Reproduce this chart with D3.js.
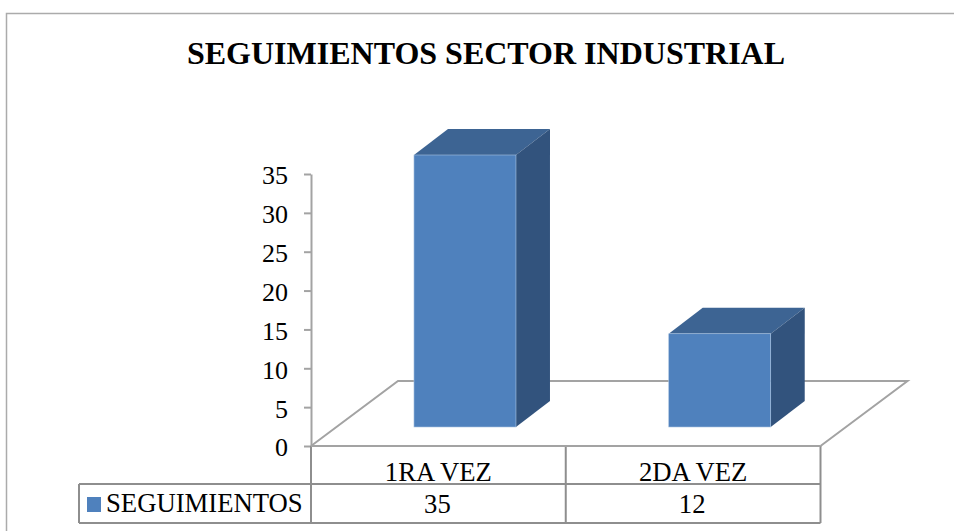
<!DOCTYPE html>
<html><head><meta charset="utf-8">
<script src="https://cdn.jsdelivr.net/npm/d3@7"></script>
<style>html,body{margin:0;padding:0;background:#fff}svg{display:block}
text{font-family:"Liberation Serif",serif;fill:#000}</style></head>
<body><svg id="c" width="954" height="531"></svg>
<script>
const titleText = "SEGUIMIENTOS SECTOR INDUSTRIAL";
const categories = ["1RA VEZ", "2DA VEZ"];
const seriesName = "SEGUIMIENTOS";
const values = [35, 12];
const yTicks = [0, 5, 10, 15, 20, 25, 30, 35];

const svg = d3.select("#c");
const grey = "#a3a3a3", frame = "#ababab", tableLine = "#8e8e8e";
const x = d3.scaleBand().domain(categories).range([311, 820.5]).paddingInner(0).paddingOuter(0);
const y = d3.scaleLinear().domain([0, 35]).range([446, 174]);
const barW = 102, shiftX = 26.6, shiftY = -19, depX = 34, depY = -26, floorX = 87, floorY = -65;
const barX = c => x(c) + x.bandwidth() / 2 + shiftX - barW / 2;

// outer frame
svg.append("path").attr("d", "M6.5,531V13.5H954").attr("fill", "none").attr("stroke", frame).attr("stroke-width", 1.5);

// title
svg.append("text").attr("x", 486).attr("y", 64).attr("text-anchor", "middle")
  .attr("font-size", 32).attr("font-weight", "bold").text(titleText);

// floor
svg.append("path")
  .attr("d", d3.line()([[x.range()[0], y(0)], [x.range()[0] + floorX, y(0) + floorY], [x.range()[1] + floorX, y(0) + floorY], [x.range()[1], y(0)]]))
  .attr("fill", "none").attr("stroke", grey).attr("stroke-width", 2);

// value axis
const ax = svg.append("g").attr("transform", "translate(311,0)")
  .call(d3.axisLeft(y).tickValues(yTicks).tickSize(7).tickPadding(16).tickSizeOuter(0));
ax.selectAll("path,line").attr("stroke", grey).attr("stroke-width", 2);
ax.selectAll("text").attr("font-size", 26).attr("font-family", "Liberation Serif").attr("fill", "#000").attr("dy", "0.38em");

// bars
const data = categories.map((c, i) => ({ c, v: values[i] }));
const bars = svg.append("g").selectAll("g").data(data).join("g");
bars.append("path").attr("fill", "#3d6493").attr("d", d => {
  const l = barX(d.c), t = y(d.v) + shiftY;
  return d3.line()([[l, t], [l + depX, t + depY], [l + barW + depX, t + depY], [l + barW, t]]) + "Z";
});
bars.append("path").attr("fill", "#32537d").attr("d", d => {
  const r = barX(d.c) + barW, t = y(d.v) + shiftY, b = y(0) + shiftY;
  return d3.line()([[r, t], [r + depX, t + depY], [r + depX, b + depY], [r, b]]) + "Z";
});
bars.append("rect").attr("fill", "#4f81bd").attr("stroke", "#a9c3e0").attr("stroke-width", 0.6)
  .attr("x", d => barX(d.c)).attr("width", barW)
  .attr("y", d => y(d.v) + shiftY).attr("height", d => y(0) - y(d.v));

// data table
const rowTop = 484, rowBot = 523, tableLeft = 79;
const tl = svg.append("g").attr("stroke", tableLine).attr("stroke-width", 2).attr("fill", "none");
const seg = (a, b, c, d) => tl.append("line").attr("x1", a).attr("y1", b).attr("x2", c).attr("y2", d);
seg(tableLeft, rowTop, x.range()[1], rowTop);
seg(tableLeft, rowBot, x.range()[1], rowBot);
seg(tableLeft, rowTop, tableLeft, rowBot);
[x.range()[0], x(categories[1]), x.range()[1]].forEach(v => seg(v, y(0), v, rowBot));
svg.append("line").attr("x1", 311).attr("x2", 820.5).attr("y1", y(0)).attr("y2", y(0)).attr("stroke", grey).attr("stroke-width", 2);

svg.append("g").selectAll("text").data(categories).join("text")
  .attr("x", c => x(c) + x.bandwidth() / 2).attr("y", 481).attr("text-anchor", "middle")
  .attr("font-size", 26.7).text(c => c);
svg.append("g").selectAll("text").data(data).join("text")
  .attr("x", d => x(d.c) + x.bandwidth() / 2 - 1).attr("y", 513).attr("text-anchor", "middle")
  .attr("font-size", 26.7).text(d => d.v);
svg.append("rect").attr("x", 87).attr("y", 497).attr("width", 14).attr("height", 15).attr("fill", "#4f81bd");
svg.append("text").attr("x", 106).attr("y", 512).attr("font-size", 26.7).text(seriesName);
</script></body></html>
